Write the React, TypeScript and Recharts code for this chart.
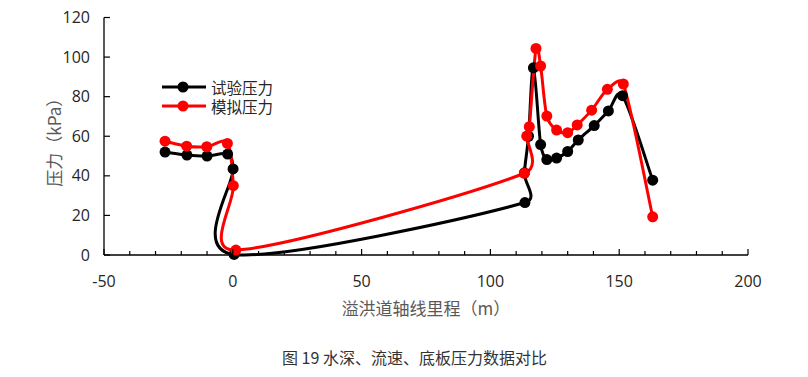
import React from 'react';
import { LineChart, Line, XAxis, YAxis } from 'recharts';

// 试验压力 (black) — chainage (m) and pressure (kPa)
const testX = [-26.3, -17.8, -10.0, -2.0, 0.1, 0.5, 113.4, 113.2, 114.8, 116.7, 119.5, 121.9, 125.7, 130.0, 134.1, 140.3, 145.8, 151.3, 163.0];
const testY = [52.0, 50.5, 50.0, 51.0, 43.5, 0.3, 26.5, 41.5, 60.0, 94.6, 55.8, 48.2, 49.0, 52.3, 58.1, 65.4, 72.8, 80.5, 37.8];

// 模拟压力 (red)
const simX = [-26.3, -17.9, -10.1, -2.1, 0.2, 1.2, 113.2, 114.1, 115.1, 117.7, 119.5, 121.9, 125.7, 130.0, 133.7, 139.3, 145.4, 151.6, 163.0];
const simY = [57.5, 55.0, 54.7, 56.4, 35.0, 2.5, 41.3, 60.1, 64.8, 104.4, 95.5, 70.2, 63.1, 61.8, 65.7, 73.2, 83.7, 86.4, 19.3];

const xTicks = [-50, -40, -30, -20, -10, 0, 10, 20, 30, 40, 50, 60, 70, 80, 90, 100, 110, 120, 130, 140, 150, 160, 170, 180, 190, 200];
const yTicks = [0, 20, 40, 60, 80, 100, 120];

const seriesNames = ['试验压力', '模拟压力'];
const seriesColors = ['#000000', '#ff0000'];

const testData = testX.map((x, i) => ({ x, y: testY[i] }));
const simData = simX.map((x, i) => ({ x, y: simY[i] }));

const CJK = '"Noto Sans CJK SC", "Noto Sans", sans-serif';
const NUM = '"Open Sans", "Noto Sans", sans-serif';

// spreadsheet-style smoothing: catmull-rom bezier, control arm capped at half the segment
const excelSmooth = (context: any) => {
  let pts: number[][] = [];
  return {
    areaStart() {},
    areaEnd() {},
    lineStart() {
      pts = [];
    },
    point(x: number, y: number) {
      pts.push([+x, +y]);
    },
    lineEnd() {
      const n = pts.length;
      if (!n) return;
      context.moveTo(pts[0][0], pts[0][1]);
      for (let i = 0; i < n - 1; i++) {
        const p0 = pts[Math.max(i - 1, 0)];
        const p1 = pts[i];
        const p2 = pts[i + 1];
        const p3 = pts[Math.min(i + 2, n - 1)];
        const half = Math.hypot(p2[0] - p1[0], p2[1] - p1[1]) / 2;
        let ax = (p2[0] - p0[0]) / 6;
        let ay = (p2[1] - p0[1]) / 6;
        const la = Math.hypot(ax, ay);
        if (la > half) {
          ax *= half / la;
          ay *= half / la;
        }
        let bx = (p3[0] - p1[0]) / 6;
        let by = (p3[1] - p1[1]) / 6;
        const lb = Math.hypot(bx, by);
        if (lb > half) {
          bx *= half / lb;
          by *= half / lb;
        }
        context.bezierCurveTo(p1[0] + ax, p1[1] + ay, p2[0] - bx, p2[1] - by, p2[0], p2[1]);
      }
    },
  };
};

const XTick = ({ x, y, payload }: any) => {
  const major = payload.value % 50 === 0;
  return (
    <g>
      <line x1={x} x2={x} y1={y} y2={y - (major ? 6 : 4)} stroke="#000" strokeWidth={1.2} />
      {major && (
        <text x={x} y={y + 26} dy="0.35em" textAnchor="middle" fill="#262626" fontSize={16} fontFamily={NUM}>
          {payload.value}
        </text>
      )}
    </g>
  );
};

const YTick = ({ x, y, payload }: any) => (
  <g>
    <line x1={x} x2={x + 6} y1={y} y2={y} stroke="#000" strokeWidth={1.2} />
    <text x={x - 14} y={y} dy="0.35em" textAnchor="end" fill="#262626" fontSize={16} fontFamily={NUM}>
      {payload.value}
    </text>
  </g>
);

const XTitle = ({ viewBox }: any) => (
  <text x={viewBox.x + viewBox.width / 2} y={301} dy="0.35em" textAnchor="middle" fill="#595959" fontSize={17} fontFamily={CJK}>
    溢洪道轴线里程（m）
  </text>
);

const YTitle = ({ viewBox }: any) => {
  const cy = viewBox.y + viewBox.height / 2 + 2;
  return (
    <text x={47} y={cy} dy="0.35em" textAnchor="middle" fill="#595959" fontSize={17} fontFamily={CJK} transform={`rotate(-90, 47, ${cy})`}>
      压力（kPa）
    </text>
  );
};

const LegendBox = () => (
  <div style={{ position: 'absolute', left: 154, top: 70, fontFamily: CJK, fontSize: 15.5, lineHeight: '18px', color: '#262626' }}>
    {seriesNames.map((name, i) => (
      <div key={name} style={{ display: 'flex', alignItems: 'center', height: 18.5 }}>
        <svg width={46} height={14} style={{ marginRight: 3 }}>
          <line x1={0} x2={44} y1={7} y2={7} stroke={seriesColors[i]} strokeWidth={3} />
          <circle cx={21} cy={7} r={5.5} fill={seriesColors[i]} />
        </svg>
        <span>{name}</span>
      </div>
    ))}
  </div>
);

export default function App() {
  return (
    <div style={{ position: 'relative', width: 800, height: 369 }}>
      <LineChart width={800} height={369} margin={{ top: 9.5, right: 60, bottom: 92, left: 0 }} style={{ overflow: 'visible' }}>
        <XAxis
          dataKey="x"
          type="number"
          domain={[-50, 200]}
          ticks={xTicks}
          interval={0}
          tickSize={0}
          tickMargin={0}
          tickLine={false}
          tick={<XTick />}
          height={30}
          stroke="#000"
          strokeWidth={1.3}
          label={XTitle}
        />
        <YAxis
          type="number"
          domain={[0, 120]}
          ticks={yTicks}
          interval={0}
          width={96}
          tickSize={0}
          tickMargin={0}
          tickLine={false}
          tick={<YTick />}
          stroke="#000"
          strokeWidth={1.3}
          label={YTitle}
        />
        <Line
          data={testData}
          dataKey="y"
          name={seriesNames[0]}
          type={excelSmooth as any}
          stroke={seriesColors[0]}
          strokeWidth={3}
          dot={{ r: 5.5, fill: seriesColors[0], stroke: seriesColors[0], strokeWidth: 0 }}
          activeDot={false}
          isAnimationActive={false}
        />
        <Line
          data={simData}
          dataKey="y"
          name={seriesNames[1]}
          type={excelSmooth as any}
          stroke={seriesColors[1]}
          strokeWidth={3}
          dot={{ r: 5.5, fill: seriesColors[1], stroke: seriesColors[1], strokeWidth: 0 }}
          activeDot={false}
          isAnimationActive={false}
        />
      </LineChart>
      <LegendBox />
      <div
        style={{
          position: 'absolute',
          left: 0,
          top: 339,
          width: 813,
          textAlign: 'center',
          fontFamily: CJK,
          fontSize: 16,
          lineHeight: '20px',
          color: '#333',
        }}
      >
        图 19 水深、流速、底板压力数据对比
      </div>
    </div>
  );
}
